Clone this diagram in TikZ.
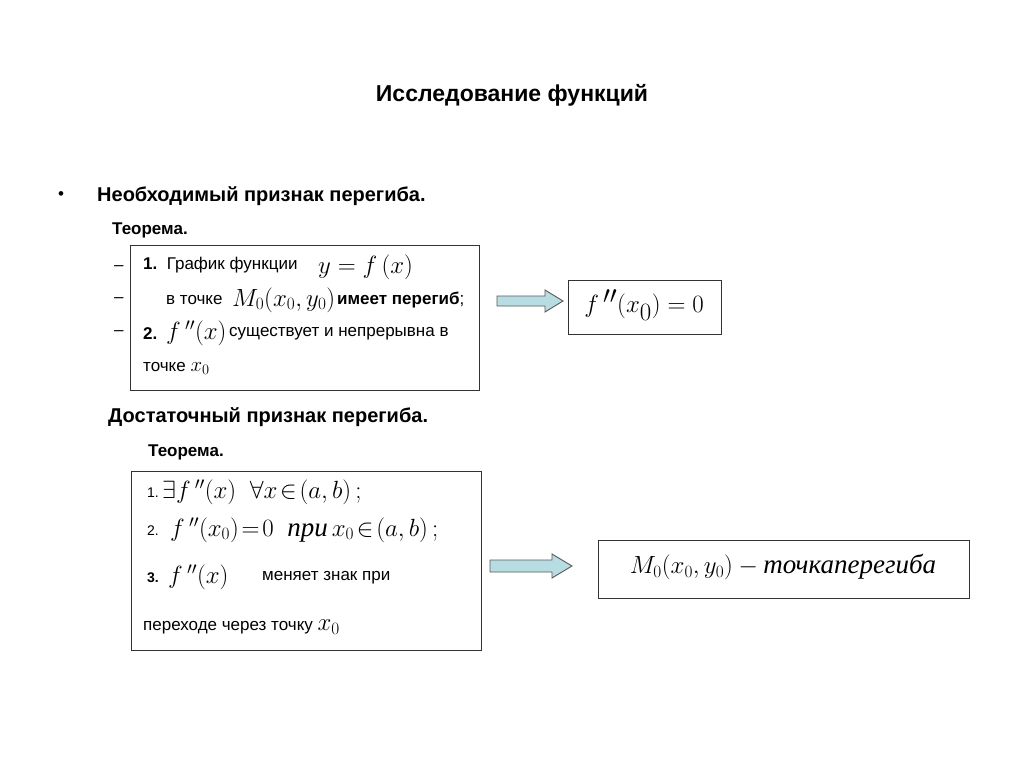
\documentclass[tikz,border=0pt]{standalone}
\usepackage{fontspec}
\setmainfont{Liberation Serif}
\setsansfont{Liberation Sans}
\definecolor{arrfill}{HTML}{B7DDE3}
\begin{document}
\begin{tikzpicture}[x=1pt,y=-1pt,
  txt/.style={anchor=west,inner sep=0pt,font=\sffamily\fontsize{17}{19}\selectfont},
  hd/.style={anchor=west,inner sep=0pt,font=\sffamily\bfseries\fontsize{20}{22}\selectfont},
  th/.style={anchor=west,inner sep=0pt,font=\sffamily\bfseries\fontsize{17}{19}\selectfont},
  frame/.style={draw=black!80,line width=1pt},
  arr/.style={draw=black!65,fill=arrfill,line width=0.9pt},
  m/.style={anchor=west,inner sep=0pt,font=\fontsize{25}{27}\selectfont}]
\useasboundingbox[fill=white] (0,0) rectangle (1024,767);
\node[inner sep=0pt,font=\sffamily\bfseries\fontsize{23}{26}\selectfont] (title) at (512,95) {Исследование функций};
\node[txt] (bul) at (58,196) {•};
\node[hd] (h1) at (97,196) {Необходимый признак перегиба.};
\node[th] (t1) at (112,230) {Теорема.};
\node[txt] (d1) at (114,268) {–};
\node[txt] (d2) at (114,300) {–};
\node[txt] (d3) at (114,333) {–};
\draw[frame] (130,245) rectangle (479,390);
\node[txt] (l1) at (143,265) {\textbf{1.}\ \ График функции};
\node[m] (l1m) at (318,267) {$y=f\,(x)$};
\node[txt] (l2) at (166,300) {в точке};
\node[m] (l2m) at (232,300) {$M_0(x_0,y_0)$};
\node[txt] (l2b) at (337,300) {\textbf{имеет перегиб};};
\node[txt] (l3) at (143,334) {\textbf{2.}};
\node[m] (l3m) at (166,333) {$f\,''(x)$};
\node[txt] (l3b) at (229,334) {существует и непрерывна в};
\node[txt] (l4) at (143,368) {точке \fontsize{20}{22}\selectfont$x_0$};
\draw[arr] (497,296) -- (545,296) -- (545,290) -- (563,301) -- (545,312) -- (545,306) -- (497,306) -- cycle;
\draw[frame] (568,280) rectangle (721,334);
\node[inner sep=0pt,font=\fontsize{34}{36}\selectfont] (r1) at (644,305) {$f\,''(x_0)=0$};
\node[hd] (h2) at (108,417) {Достаточный признак перегиба.};
\node[th] (t2) at (148,452) {Теорема.};
\draw[frame] (131,471) rectangle (481,650);
\node[txt,font=\sffamily\fontsize{14}{16}\selectfont] (b1) at (147,493) {1.};
\node[m,font=\fontsize{27}{29}\selectfont] (b1m) at (162,492) {$\exists f\,''(x)\ \ \forall x\!\in\!(a,b)\,;$};
\node[txt,font=\sffamily\fontsize{14}{16}\selectfont] (b2) at (147,531) {2.};
\node[m,font=\fontsize{27}{29}\selectfont] (b2m) at (170,530) {$f\,''(x_0)\!=\!0\ \ \textit{при}\,x_0\!\in\!(a,b)\,;$};
\node[txt,font=\sffamily\bfseries\fontsize{14}{16}\selectfont] (b3) at (147,578) {3.};
\node[m,font=\fontsize{27}{29}\selectfont] (b3m) at (168,577) {$f\,''(x)$};
\node[txt] (b3b) at (262,578) {меняет знак при};
\node[txt] (b4) at (143,627) {переходе через точку \fontsize{24}{26}\selectfont$x_0$};
\draw[arr] (490,560) -- (552,560) -- (552,554) -- (572,566) -- (552,578) -- (552,572) -- (490,572) -- cycle;
\draw[frame] (598,540) rectangle (969,598);
\node[inner sep=0pt,font=\fontsize{27}{30}\selectfont] (r2) at (783,567) {$M_0(x_0,y_0)-{}$\textit{точкаперегиба}};
\end{tikzpicture}
\end{document}
